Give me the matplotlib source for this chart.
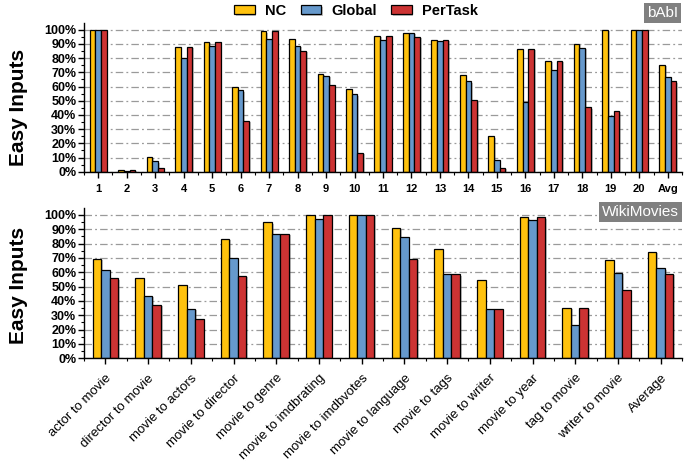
import matplotlib
matplotlib.use("Agg")
import matplotlib.pyplot as plt
import matplotlib.patheffects as pe
from matplotlib.ticker import MultipleLocator, FixedLocator, PercentFormatter
import numpy as np

plt.rcParams['font.family'] = ['Liberation Sans', 'DejaVu Sans']

# ---- data ----
series_names = ["NC", "Global", "PerTask"]
colors = ["#FFC20E", "#6699CC", "#CC3333"]

babi_labels = [str(i) for i in range(1, 21)] + ["Avg"]
babi_nc = [100, 1.5, 10.5, 88.1, 91.4, 59.9, 98.8, 93.7, 69.2, 58.0, 95.8,
           97.9, 92.8, 68.3, 24.9, 86.7, 78.3, 90.2, 100, 100, 75.3]
babi_global = [100, 0.5, 7.2, 80.4, 88.6, 57.3, 93.7, 88.8, 67.6, 54.5, 92.5,
               97.7, 92.1, 63.6, 8.4, 49.0, 72.0, 87.4, 39.4, 100, 66.9]
babi_pertask = [100, 1.2, 2.3, 88.1, 91.4, 35.7, 98.8, 85.3, 60.8, 13.5, 95.8,
                94.9, 92.8, 50.3, 2.8, 86.7, 78.3, 45.5, 42.7, 100, 63.6]

wiki_labels = ["actor to movie", "director to movie", "movie to actors",
               "movie to director", "movie to genre", "movie to imdbrating",
               "movie to imdbvotes", "movie to language", "movie to tags",
               "movie to writer", "movie to year", "tag to movie",
               "writer to movie", "Average"]
wiki_nc = [69.5, 55.9, 51.3, 83.2, 94.9, 100, 100, 90.7, 76.5, 54.5, 98.4, 35.4, 68.5, 74.1]
wiki_global = [61.5, 43.6, 34.3, 70.2, 86.7, 97.4, 100, 84.6, 58.5, 34.5, 96.5, 23.1, 59.7, 62.7]
wiki_pertask = [55.9, 37.1, 27.7, 57.6, 86.7, 100, 100, 69.5, 58.5, 34.5, 98.4, 35.4, 47.8, 58.7]

W, H = 700, 463
fig = plt.figure(figsize=(W / 100, H / 100), dpi=100)

def px_axes(left, right, top, bottom):
    return fig.add_axes([left / W, 1 - bottom / H, (right - left) / W, (bottom - top) / H])

ax1 = px_axes(84, 682, 22.7, 171.7)
ax2 = px_axes(84, 682, 207.7, 358.3)

shadow = [pe.SimplePatchShadow(offset=(1.2, -1.0), shadow_rgbFace='#555555', alpha=0.35), pe.Normal()]

def draw(ax, labels, data, rot):
    n = len(labels)
    x = np.arange(n)
    bw = 0.2
    handles = []
    for i, (vals, c, name) in enumerate(zip(data, colors, series_names)):
        b = ax.bar(x + (i - 1) * bw, vals, width=bw, color=c, edgecolor='black',
                   linewidth=0.9, label=name, zorder=3)
        for p in b:
            p.set_path_effects(shadow)
        handles.append(b)
    ax.set_xlim(-0.5, n - 0.5)
    ax.set_ylim(0, 105)
    ax.yaxis.set_major_locator(FixedLocator(np.arange(0, 101, 10)))
    ax.yaxis.set_minor_locator(FixedLocator(np.arange(5, 100, 10)))
    ax.yaxis.set_major_formatter(PercentFormatter(decimals=0))
    ax.set_xticks(x)
    ax.xaxis.set_minor_locator(FixedLocator(np.arange(-0.5, n, 1.0)))
    ax.grid(axis='y', which='major', color='#9a9a9a', linewidth=0.9,
            linestyle=(0, (6, 2.5, 1.5, 2.5)), zorder=0)
    ax.set_axisbelow(True)
    for s in ['top', 'right']:
        ax.spines[s].set_visible(False)
    for s in ['left', 'bottom']:
        ax.spines[s].set_linewidth(1.0)
        ax.spines[s].set_zorder(5)
    ax.tick_params(axis='both', which='major', direction='out', length=4, width=1.0)
    ax.tick_params(axis='both', which='minor', direction='out', length=2.5, width=0.8)
    for t in ax.get_yticklabels():
        t.set_fontsize(9)
        t.set_fontweight('bold')
    ax.tick_params(axis='y', pad=1.5)
    ax.set_ylabel("Easy Inputs", fontsize=15, fontweight='bold')
    if rot:
        ax.set_xticklabels(labels, rotation=45, ha='right', va='top',
                           rotation_mode='anchor', fontsize=9.5)
        ax.tick_params(axis='x', pad=6)
    else:
        ax.set_xticklabels(labels, fontsize=8, fontweight='bold')
        ax.tick_params(axis='x', pad=5)
    return handles

h = draw(ax1, babi_labels, [babi_nc, babi_global, babi_pertask], False)
draw(ax2, wiki_labels, [wiki_nc, wiki_global, wiki_pertask], True)

ax1.yaxis.set_label_coords(-0.094, 0.43)
ax2.yaxis.set_label_coords(-0.094, 0.485)

leg = fig.legend(handles=h, labels=series_names, loc='center',
                 bbox_to_anchor=(356 / W, 1 - 11 / H), ncol=3, frameon=False,
                 prop={'weight': 'bold', 'size': 10.5},
                 handlelength=1.4, handleheight=0.6, handletextpad=0.7,
                 columnspacing=1.0, borderpad=0)

fig.text(662.5 / W, 1 - 13 / H, "bAbI", ha='center', va='center', fontsize=11,
         color='white', bbox=dict(boxstyle='square,pad=0.22', fc='#808080', ec='none'))
fig.text(640.5 / W, 1 - 212 / H, "WikiMovies", ha='center', va='center', fontsize=11,
         color='white', bbox=dict(boxstyle='square,pad=0.22', fc='#808080', ec='none'))

fig.savefig("out.png", dpi=100)
